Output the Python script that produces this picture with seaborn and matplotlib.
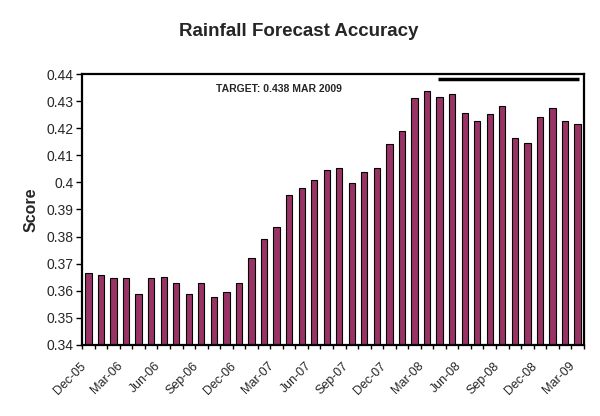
import matplotlib
matplotlib.use("Agg")
import matplotlib.pyplot as plt
import matplotlib.transforms as mtransforms
import seaborn as sns
import pandas as pd
import numpy as np
from matplotlib.ticker import FuncFormatter, FixedLocator

months = list(pd.date_range("2005-12-01", "2009-03-01", freq="MS").strftime("%b-%y"))
scores = [0.3666, 0.3657, 0.3647, 0.3647, 0.3586, 0.3647, 0.3651, 0.3628, 0.3586, 0.3628,
          0.3577, 0.3595, 0.3628, 0.3721, 0.3791, 0.3836, 0.3954, 0.3980, 0.4007, 0.4044,
          0.4052, 0.3999, 0.4040, 0.4054, 0.4141, 0.4189, 0.4310, 0.4338, 0.4317, 0.4328,
          0.4258, 0.4226, 0.4252, 0.4283, 0.4165, 0.4147, 0.4240, 0.4273, 0.4228, 0.4214]
target = 0.438
target_text = "TARGET: 0.438 MAR 2009"
title = "Rainfall Forecast Accuracy"
ylabel = "Score"

df = pd.DataFrame({"Month": months, "Score": scores})

sns.set_theme(style="white")
plt.rcParams["font.family"] = ["Liberation Sans", "DejaVu Sans"]

fig = plt.figure(figsize=(6.0, 4.16), dpi=100)
ax = fig.add_axes([0.137, 0.171, 0.836, 0.651])

sns.barplot(data=df, x="Month", y="Score", color="#993366", saturation=1,
            width=0.5, edgecolor="black", linewidth=0.8, ax=ax)

ax.set_yticks(np.round(np.arange(0.34, 0.4401, 0.01), 2))
ax.yaxis.set_major_formatter(FuncFormatter(lambda v, p: f"{v:g}"))

ax.set_xticks([])
ax.xaxis.set_minor_locator(FixedLocator(np.arange(-0.5, len(months), 1.0)))
ax.set_xlim(-0.5, len(months) - 0.5)
ax.set_ylim(0.34, 0.44)
ax.tick_params(axis="x", which="minor", bottom=True, length=3, width=1, color="black", direction="out")
ax.tick_params(axis="y", which="major", left=True, length=4, width=1, color="black",
               direction="out", labelsize=10, pad=2)

# category labels every third month, anchored at bar centres
base = mtransforms.blended_transform_factory(ax.transData, ax.transAxes)
shift = mtransforms.ScaledTranslation(-0.09, -0.15, fig.dpi_scale_trans)
for i in range(0, len(months), 3):
    ax.text(i, 0, months[i], transform=base + shift, rotation=45, ha="right", va="top",
            rotation_mode="anchor", fontsize=9, clip_on=False)

for s in ax.spines.values():
    s.set_visible(True)
    s.set_color("black")
    s.set_linewidth(1.6)

start = months.index("Apr-08") - 0.13
ax.hlines(target, start, len(months) - 1 + 0.1, color="black", linewidth=2.5)
ax.text(15.2, 0.4343, target_text, fontsize=7.5, fontweight="bold", ha="center", va="center")

ax.set_xlabel("")
ax.set_ylabel(ylabel, fontsize=11.5, fontweight="bold", labelpad=6)
fig.text(0.497, 0.925, title, fontsize=13.5, fontweight="bold", ha="center", va="center")

fig.savefig("out.png", dpi=100, facecolor="white")
